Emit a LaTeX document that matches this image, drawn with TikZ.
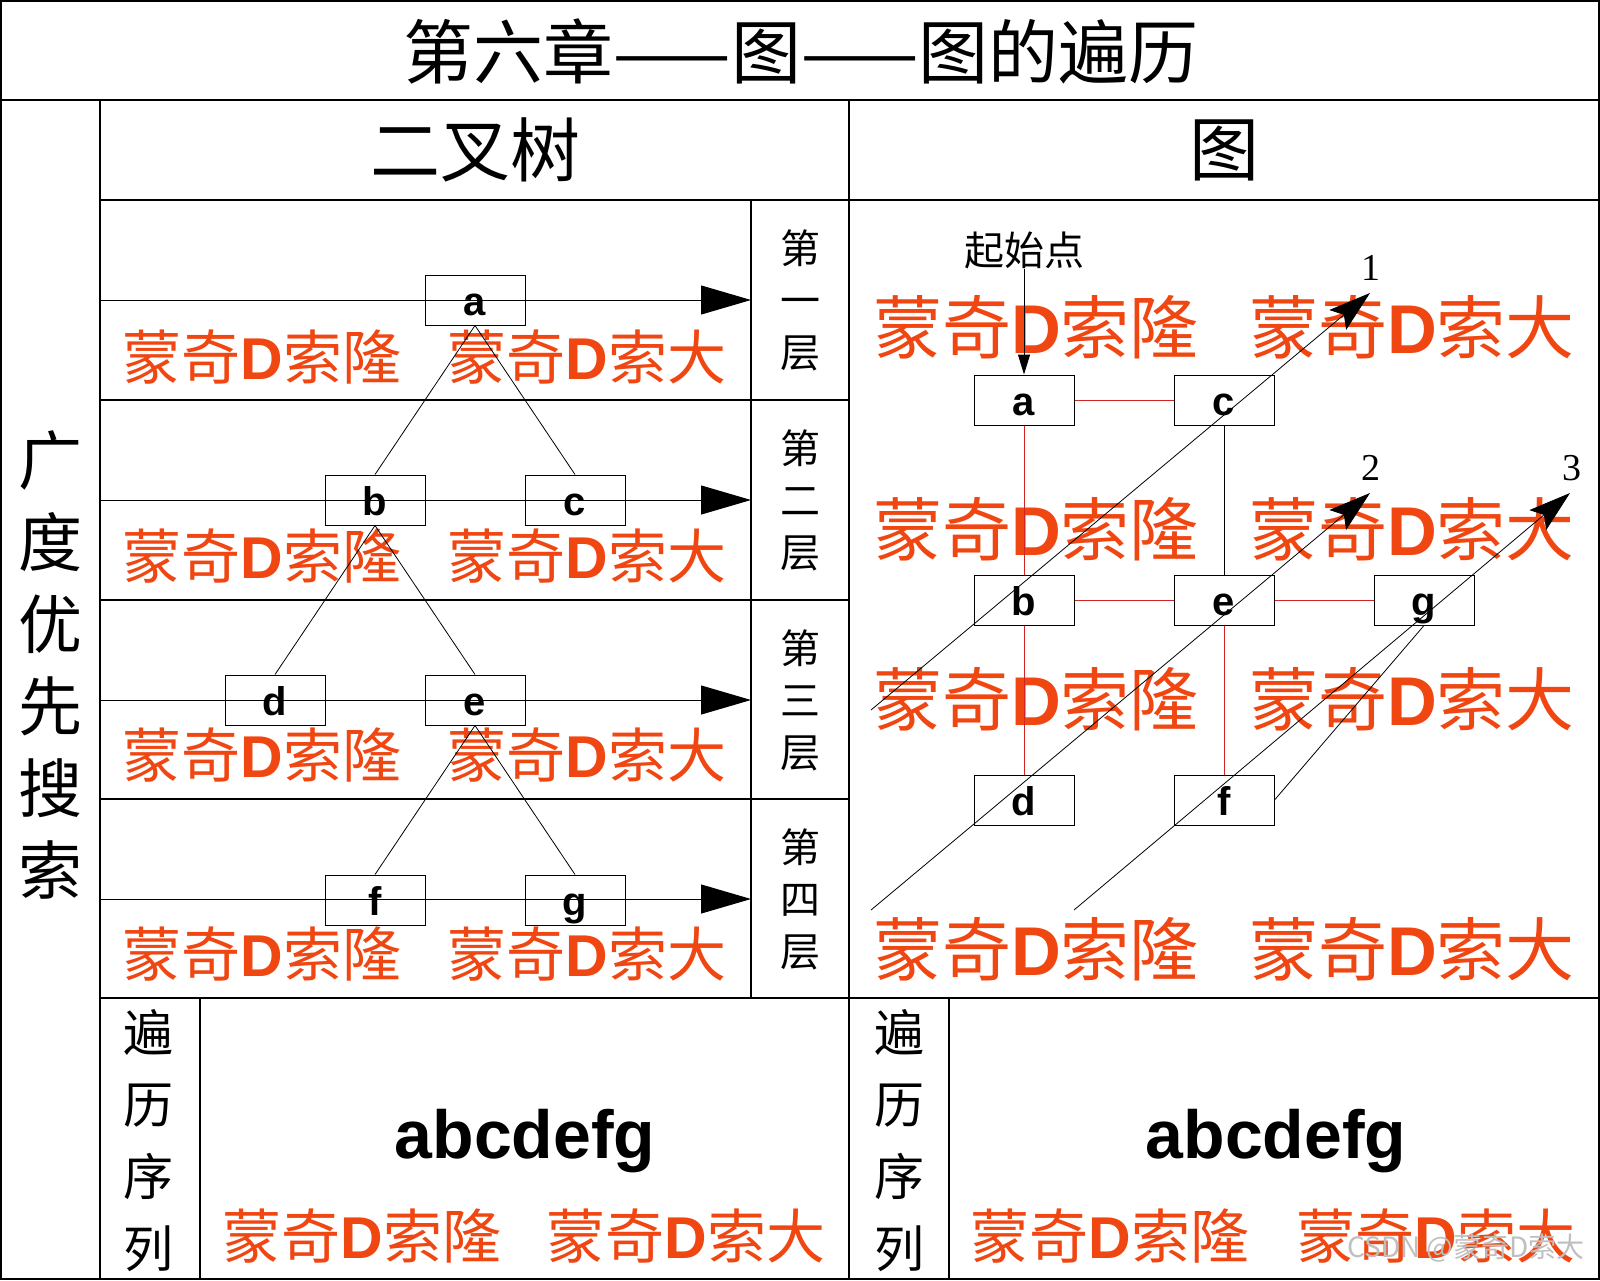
\documentclass[tikz,border=0pt]{standalone}
\usepackage{fontspec}
\setmainfont{Liberation Sans}
\newfontfamily\cjk{Noto Sans CJK SC}
\newfontfamily\timesnum{Liberation Serif}
\usetikzlibrary{arrows.meta}
\definecolor{tagred}{RGB}{240,70,18}
\definecolor{edgered}{RGB}{205,35,35}
\newcommand{\mqname}[1]{{\cjk 蒙奇}{\bfseries D}{\cjk 索#1}}

\tikzset{
  tabline/.style={line width=1.5pt},
  vbox/.style={draw, line width=1pt, minimum width=100pt, minimum height=50pt, inner sep=0pt,
    text height=32pt, text depth=2pt, font=\fontsize{40}{40}\selectfont\bfseries},
  redtag/.style={text=tagred, inner sep=0pt, font=\fontsize{59}{59}\selectfont},
  bigtag/.style={redtag, font=\fontsize{69}{69}\selectfont},
  head/.style={inner sep=0pt, font=\cjk\fontsize{70}{70}\selectfont},
  vtext/.style={inner sep=0pt, align=center},
  levelarrow/.style={line width=1pt, -{Triangle[length=50pt,width=29pt]}},
  treeedge/.style={line width=0.8pt},
  graphedge/.style={line width=1pt, edgered},
  sweepline/.style={line width=0.8pt, -{Stealth[length=42pt,width=26pt,inset=8pt]}},
  numlbl/.style={inner sep=0pt, font=\timesnum\fontsize{38}{38}\selectfont},
}

\begin{document}
\begin{tikzpicture}[x=1pt,y=-1pt]
\useasboundingbox (0,0) rectangle (1600,1280);

% table frame
\draw[tabline] (1,1) rectangle (1599,1279);
\draw[tabline] (0,100) -- (1600,100);
\draw[tabline] (100,100) -- (100,1280);
\draw[tabline] (100,200) -- (1600,200);
\draw[tabline] (849,100) -- (849,1280);
\draw[tabline] (751,200) -- (751,998);
\foreach \y in {400,600,799} \draw[tabline] (100,\y) -- (849,\y);
\draw[tabline] (100,998) -- (1600,998);
\draw[tabline] (200,998) -- (200,1280);
\draw[tabline] (949,998) -- (949,1280);

\node[head] (title) at (801,51) {第六章——图——图的遍历};
\node[head] (htree) at (475,150) {二叉树};
\node[head] (hgraph) at (1224,150) {图};
\node[vtext, font=\cjk\fontsize{64}{82}\selectfont] (bfs) at (50,665) {广\\度\\优\\先\\搜\\索};

% red name tags
\foreach \y in {357,556,755,954} {
  \node[redtag] (tl\y) at (262,\y) {\mqname{隆}};
  \node[redtag] (tr\y) at (587,\y) {\mqname{大}};
}
\foreach \y in {327,529,699,949} {
  \node[bigtag] (gl\y) at (1036,\y) {\mqname{隆}};
  \node[bigtag] (gr\y) at (1412,\y) {\mqname{大}};
}
\node[redtag] (bl1) at (362,1236) {\mqname{隆}};
\node[redtag] (br1) at (686,1236) {\mqname{大}};
\node[redtag] (bl2) at (1110,1236) {\mqname{隆}};
\node[redtag] (br2) at (1436,1236) {\mqname{大}};

% binary tree
\foreach \y/\ord [count=\i] in {300/一,500/二,700/三,899/四} {
  \coordinate (ls\i) at (100,\y);
  \coordinate (le\i) at (751,\y);
  \draw[levelarrow] (ls\i) -- (le\i);
  \node[vtext, font=\cjk\fontsize{40}{52}\selectfont] (lv\i) at (800,\y) {第\\\ord\\层};
}
\node[vbox] (ta) at (475,300) {a};
\node[vbox] (tb) at (375,500) {b};
\node[vbox] (tc) at (575,500) {c};
\node[vbox] (td) at (275,700) {d};
\node[vbox] (te) at (475,700) {e};
\node[vbox] (tf) at (375,900) {f};
\node[vbox] (tg) at (575,900) {g};
\draw[treeedge] (ta.south) -- (tb.north);
\draw[treeedge] (ta.south) -- (tc.north);
\draw[treeedge] (tb.south) -- (td.north);
\draw[treeedge] (tb.south) -- (te.north);
\draw[treeedge] (te.south) -- (tf.north);
\draw[treeedge] (te.south) -- (tg.north);

% graph
\node[vbox] (ga) at (1024,400) {a};
\node[vbox] (gc) at (1224,400) {c};
\node[vbox] (gb) at (1024,600) {b};
\node[vbox] (ge) at (1224,600) {e};
\node[vbox] (gg) at (1424,600) {g};
\node[vbox] (gd) at (1024,800) {d};
\node[vbox] (gf) at (1224,800) {f};
\draw[graphedge] (ga) -- (gc);
\draw[graphedge] (ga) -- (gb);
\draw[graphedge] (gb) -- (gd);
\draw[graphedge] (gb) -- (ge);
\draw[graphedge] (ge) -- (gg);
\draw[graphedge] (ge) -- (gf);
\draw[line width=1pt] (gc) -- (ge);

\node[inner sep=0pt, font=\cjk\fontsize{40}{40}\selectfont] (startlbl) at (1024,250) {起始点};
\draw[line width=1pt, -{Triangle[length=20pt,width=12pt]}] (startlbl.south) -- (ga.north);

\coordinate (w1s) at (871,710);  \coordinate (w1e) at (1370,293);
\coordinate (w2s) at (871,910);  \coordinate (w2e) at (1370,493);
\coordinate (w3s) at (1074,910); \coordinate (w3e) at (1570,493);
\draw[sweepline] (w1s) -- (w1e);
\draw[sweepline] (w2s) -- (w2e);
\draw[sweepline] (w3s) -- (w3e);
\draw[line width=0.8pt] (gf.east) -- (gg.south);
\node[numlbl] (n1) at (1371,268) {1};
\node[numlbl] (n2) at (1371,468) {2};
\node[numlbl] (n3) at (1572,468) {3};

% traversal order
\node[vtext, font=\cjk\fontsize{50}{72}\selectfont] (seqt) at (148,1141) {遍\\历\\序\\列};
\node[vtext, font=\cjk\fontsize{50}{72}\selectfont] (seqg) at (899,1141) {遍\\历\\序\\列};
\node[anchor=base, inner sep=0pt, font=\fontsize{68}{68}\selectfont\bfseries] (ordt) at (525,1158) {abcdefg};
\node[anchor=base, inner sep=0pt, font=\fontsize{68}{68}\selectfont\bfseries] (ordg) at (1276,1158) {abcdefg};

\node[inner sep=0pt, text=black!25, font=\cjk\fontsize{28}{28}\selectfont] (mark) at (1466,1248) {CSDN @蒙奇D索大};
\end{tikzpicture}
\end{document}
